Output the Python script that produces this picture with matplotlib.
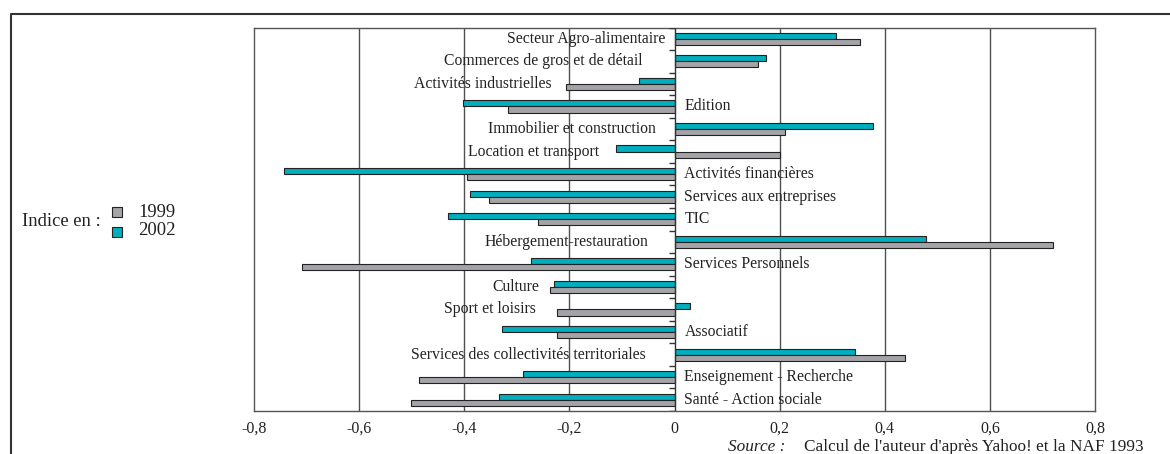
import numpy as np
import matplotlib
matplotlib.use("Agg")
import matplotlib.pyplot as plt
from matplotlib.lines import Line2D
from matplotlib.patches import Rectangle

categories = [
    "Secteur Agro-alimentaire", "Commerces de gros et de détail",
    "Activités industrielles", "Edition", "Immobilier et construction",
    "Location et transport", "Activités financières",
    "Services aux entreprises", "TIC", "Hébergement-restauration",
    "Services Personnels", "Culture", "Sport et loisirs", "Associatif",
    "Services des collectivités territoriales", "Enseignement - Recherche",
    "Santé - Action sociale",
]
v1999 = [0.352, 0.158, -0.207, -0.317, 0.210, 0.200, -0.395, -0.353, -0.259,
         0.721, -0.709, -0.236, -0.224, -0.224, 0.439, -0.487, -0.502]
v2002 = [0.307, 0.174, -0.068, -0.402, 0.377, -0.111, -0.743, -0.390, -0.430,
         0.478, -0.273, -0.229, 0.029, -0.328, 0.343, -0.288, -0.334]
xticks = [-0.8, -0.6, -0.4, -0.2, 0, 0.2, 0.4, 0.6, 0.8]
xticklabels = ["-0,8", "-0,6", "-0,4", "-0,2", "0", "0,2", "0,4", "0,6", "0,8"]

# where each category label ends (left side) or starts (right side), in data units
label_side = ["L", "L", "L", "R", "L", "L", "R", "R", "R", "L", "R", "L", "L", "R", "L", "R", "R"]
label_x = [-0.018, -0.061, -0.234, 0.019, -0.035, -0.143, 0.019, 0.019, 0.019,
           -0.050, 0.019, -0.257, -0.264, 0.019, -0.054, 0.019, 0.019]

TEAL = "#00aebd"
GREY = "#a3a3a8"
EDGE = "#222222"
TXT = "#222222"
FONT = "Liberation Serif"

plt.rcParams["font.family"] = FONT

fig = plt.figure(figsize=(11.7, 4.54), dpi=100)
ax = fig.add_axes([254 / 1170, 1 - 411 / 454, (1095 - 254) / 1170, (411 - 27.5) / 454])

n = len(categories)
y = np.arange(n)
h = 0.27
ax.barh(y - h / 2, v2002, height=h, color=TEAL, edgecolor=EDGE, linewidth=0.8, zorder=3)
ax.barh(y + h / 2, v1999, height=h, color=GREY, edgecolor=EDGE, linewidth=0.8, zorder=3)

ax.set_xlim(-0.8, 0.8)
ax.set_ylim(n - 0.5, -0.5)
ax.set_yticks([])
ax.set_xticks(xticks)
ax.set_xticklabels(xticklabels, fontsize=11.5, color=TXT)
ax.tick_params(axis="x", length=0, pad=7)

for xv in xticks[1:-1]:
    if xv != 0:
        ax.axvline(xv, color="#505050", linewidth=1.0, zorder=1)
ax.axvline(0, color="#333333", linewidth=1.0, zorder=4)
ax.hlines(np.arange(n + 1) - 0.5, -0.011, 0, color="#333333", linewidth=1.0, zorder=4)

for s in ax.spines.values():
    s.set_color("#555555")
    s.set_linewidth(1.0)

for i, (lab, side, lx) in enumerate(zip(categories, label_side, label_x)):
    ha = "left" if side == "R" else "right"
    ax.text(lx, i, lab, ha=ha, va="center", fontsize=11.3, color=TXT, zorder=5)

# legend
fig.text(22 / 1170, 1 - 221 / 454, "Indice en :", fontsize=13.4, va="center", color=TXT)
fig.patches.append(Rectangle((112 / 1170, 1 - 217 / 454), 10 / 1170, 10 / 454,
                             transform=fig.transFigure, facecolor=GREY, edgecolor=EDGE, linewidth=0.8))
fig.patches.append(Rectangle((112 / 1170, 1 - 237 / 454), 10 / 1170, 10 / 454,
                             transform=fig.transFigure, facecolor=TEAL, edgecolor=EDGE, linewidth=0.8))
fig.text(138 / 1170, 1 - 212 / 454, "1999", fontsize=13.4, va="center", color=TXT)
fig.text(138 / 1170, 1 - 230 / 454, "2002", fontsize=13.4, va="center", color=TXT)

# source
fig.text(728 / 1170, 1 - 451 / 454, "Source :", fontsize=12.4, style="italic", va="baseline", color=TXT)
fig.text(804 / 1170, 1 - 451 / 454, "Calcul de l'auteur d'après Yahoo! et la NAF 1993",
         fontsize=12.4, va="baseline", color=TXT)

# outer frame (left and top)
fig.lines.append(Line2D([11 / 1170, 11 / 1170, 1.0], [0.0, 1 - 14 / 454, 1 - 14 / 454],
                        transform=fig.transFigure, color="#333333", linewidth=1.5))

fig.savefig("out.png", dpi=100)
